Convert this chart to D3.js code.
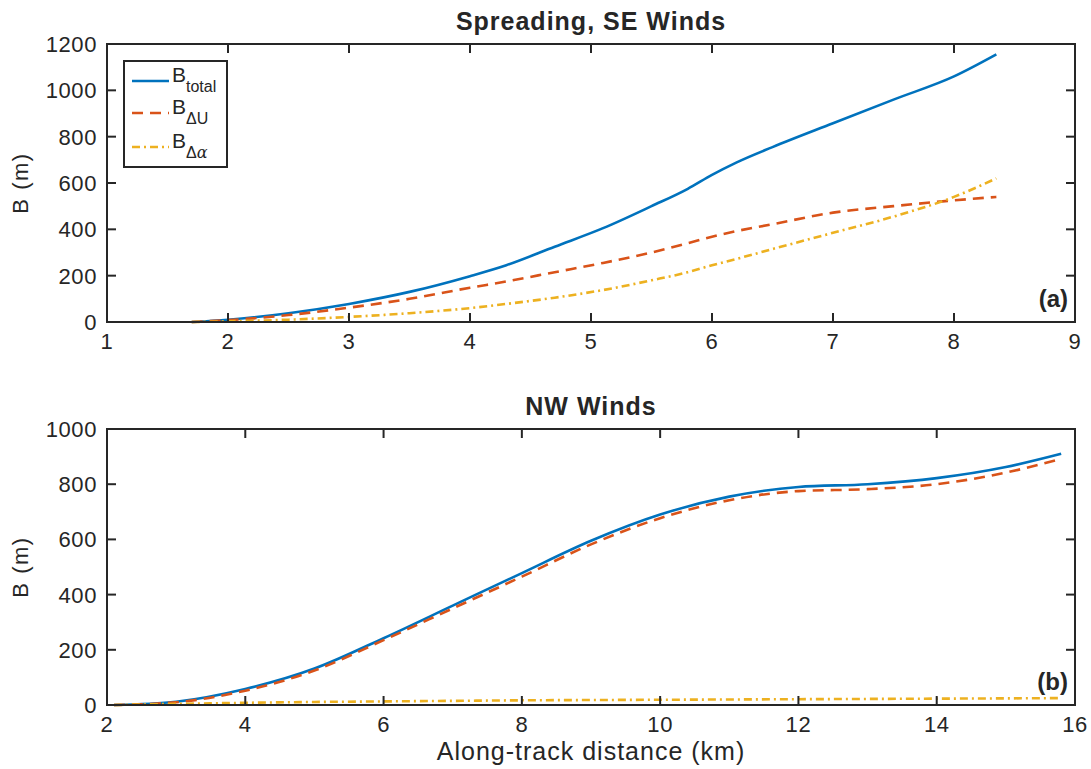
<!DOCTYPE html>
<html>
<head>
<meta charset="utf-8">
<script src="https://cdn.jsdelivr.net/npm/d3@7"></script>
<style>
  body { margin: 0; background: #fff; }
  text { font-family: "Liberation Sans", Arial, sans-serif; fill: #262626; }
</style>
</head>
<body>
<div id="chart"></div>
<script>
// Panel (a): spreading, SE winds
const xA = [1.7, 2.0, 2.5, 3.0, 3.5, 4.0, 4.3, 4.7, 5.1, 5.5, 5.8, 6.0, 6.2, 6.5, 7.0, 7.5, 8.0, 8.35];
const totalA = [0, 10, 38, 78, 130, 198, 245, 325, 405, 500, 575, 635, 688, 755, 858, 960, 1060, 1155];
const dUA = [0, 8, 30, 62, 100, 148, 175, 215, 255, 300, 340, 368, 392, 422, 472, 500, 525, 540];
const dAlphaA = [0, 3, 10, 22, 38, 60, 78, 105, 138, 180, 215, 245, 272, 315, 385, 455, 540, 620];

// Panel (b): NW winds
const xB = [2.1, 3, 4, 5, 6, 7, 8, 9, 10, 11, 12, 13, 14, 15, 15.8];
const totalB = [0, 12, 58, 132, 242, 360, 478, 595, 690, 755, 790, 800, 822, 862, 910];
const dUB = [0, 10, 52, 125, 235, 350, 465, 582, 677, 742, 775, 782, 800, 842, 892];
const dAlphaB = [0, 4, 8, 11, 13, 15, 17, 18, 19, 20, 21, 22, 23, 24, 25];

const xTicksA = [1, 2, 3, 4, 5, 6, 7, 8, 9];
const yTicksA = [0, 200, 400, 600, 800, 1000, 1200];
const xTicksB = [2, 4, 6, 8, 10, 12, 14, 16];
const yTicksB = [0, 200, 400, 600, 800, 1000];

const colors = ["#0072BD", "#D95319", "#EDB120"];
const dashes = [null, "11,7", "8,4,2,4"];

const width = 1091, height = 769;
const left = 107, right = 1075;
const svg = d3.select("#chart").append("svg")
    .attr("width", width).attr("height", height);

const axisColor = "#262626";

function panel(opts) {
    const x = d3.scaleLinear().domain(opts.xDomain).range([left, right]);
    const y = d3.scaleLinear().domain(opts.yDomain).range([opts.bottom, opts.top]);
    const g = svg.append("g");
    const tick = 9;

    // lines
    const line = d3.line()
        .x((d, i) => x(opts.xs[i]))
        .y(d => y(d))
        .curve(d3.curveMonotoneX);
    opts.series.forEach((s, i) => {
        g.append("path")
            .attr("d", line(s))
            .attr("fill", "none")
            .attr("stroke", colors[i])
            .attr("stroke-width", 2.6)
            .attr("stroke-dasharray", dashes[i]);
    });

    // box
    g.append("rect")
        .attr("x", left).attr("y", opts.top)
        .attr("width", right - left)
        .attr("height", opts.bottom - opts.top)
        .attr("fill", "none").attr("stroke", axisColor).attr("stroke-width", 2);

    // x ticks (bottom and top, inward)
    opts.xTicks.forEach(t => {
        g.append("line").attr("x1", x(t)).attr("x2", x(t))
            .attr("y1", opts.bottom).attr("y2", opts.bottom - tick)
            .attr("stroke", axisColor).attr("stroke-width", 2);
        g.append("line").attr("x1", x(t)).attr("x2", x(t))
            .attr("y1", opts.top).attr("y2", opts.top + tick)
            .attr("stroke", axisColor).attr("stroke-width", 2);
        g.append("text").attr("x", x(t)).attr("y", opts.bottom + 27)
            .attr("text-anchor", "middle").attr("font-size", 22)
            .attr("letter-spacing", 0.6).text(t);
    });
    // y ticks (left and right, inward)
    opts.yTicks.forEach(t => {
        g.append("line").attr("x1", left).attr("x2", left + tick)
            .attr("y1", y(t)).attr("y2", y(t))
            .attr("stroke", axisColor).attr("stroke-width", 2);
        g.append("line").attr("x1", right).attr("x2", right - tick)
            .attr("y1", y(t)).attr("y2", y(t))
            .attr("stroke", axisColor).attr("stroke-width", 2);
        g.append("text").attr("x", 97).attr("y", y(t) + 8)
            .attr("text-anchor", "end").attr("font-size", 22)
            .attr("letter-spacing", 0.6).text(t);
    });

    // title
    g.append("text").attr("x", (left + right) / 2).attr("y", opts.top - 14)
        .attr("text-anchor", "middle").attr("font-size", 25)
        .attr("letter-spacing", 1)
        .attr("font-weight", "bold").attr("fill", "#000").text(opts.title);

    // y label
    g.append("text")
        .attr("transform", `translate(28,${(opts.top + opts.bottom) / 2}) rotate(-90)`)
        .attr("text-anchor", "middle").attr("font-size", 22)
        .attr("letter-spacing", 1.5).text("B (m)");

    // panel tag
    g.append("text").attr("x", 1068).attr("y", opts.bottom - 15)
        .attr("text-anchor", "end").attr("font-size", 24)
        .attr("font-weight", "bold").attr("fill", "#000").text(opts.tag);

    return { x, y, g };
}

panel({
    xDomain: [1, 9], yDomain: [0, 1200], top: 44, bottom: 322,
    xs: xA, series: [totalA, dUA, dAlphaA],
    xTicks: xTicksA, yTicks: yTicksA,
    title: "Spreading, SE Winds", tag: "(a)"
});

panel({
    xDomain: [2, 16], yDomain: [0, 1000], top: 429, bottom: 705,
    xs: xB, series: [totalB, dUB, dAlphaB],
    xTicks: xTicksB, yTicks: yTicksB,
    title: "NW Winds", tag: "(b)"
});

// x label
svg.append("text").attr("x", (left + right) / 2).attr("y", 760)
    .attr("text-anchor", "middle").attr("font-size", 25)
    .attr("letter-spacing", 1)
    .text("Along-track distance (km)");

// legend
const legend = svg.append("g");
legend.append("rect")
    .attr("x", 124).attr("y", 61).attr("width", 103).attr("height", 106)
    .attr("fill", "#fff").attr("stroke", axisColor).attr("stroke-width", 2);
const subs = [["total", false], ["\u0394U", false], ["\u0394\u03b1", true]];
const rowY = [81, 113, 147];
subs.forEach((s, i) => {
    const yy = rowY[i];
    legend.append("line")
        .attr("x1", 132).attr("x2", 169).attr("y1", yy).attr("y2", yy)
        .attr("stroke", colors[i]).attr("stroke-width", 2.6)
        .attr("stroke-dasharray", dashes[i]);
    const t = legend.append("text").attr("x", 172).attr("y", yy + 1)
        .attr("font-size", 21).attr("fill", "#000");
    t.append("tspan").text("B");
    if (s[1]) {
        t.append("tspan").attr("dy", 10).attr("font-size", 16).text("\u0394");
        t.append("tspan").attr("font-size", 16).attr("font-style", "italic")
            .attr("font-family", "DejaVu Serif, serif").text("\u03b1");
    } else {
        t.append("tspan").attr("dy", 10).attr("font-size", 16).text(s[0]);
    }
});
</script>
</body>
</html>
